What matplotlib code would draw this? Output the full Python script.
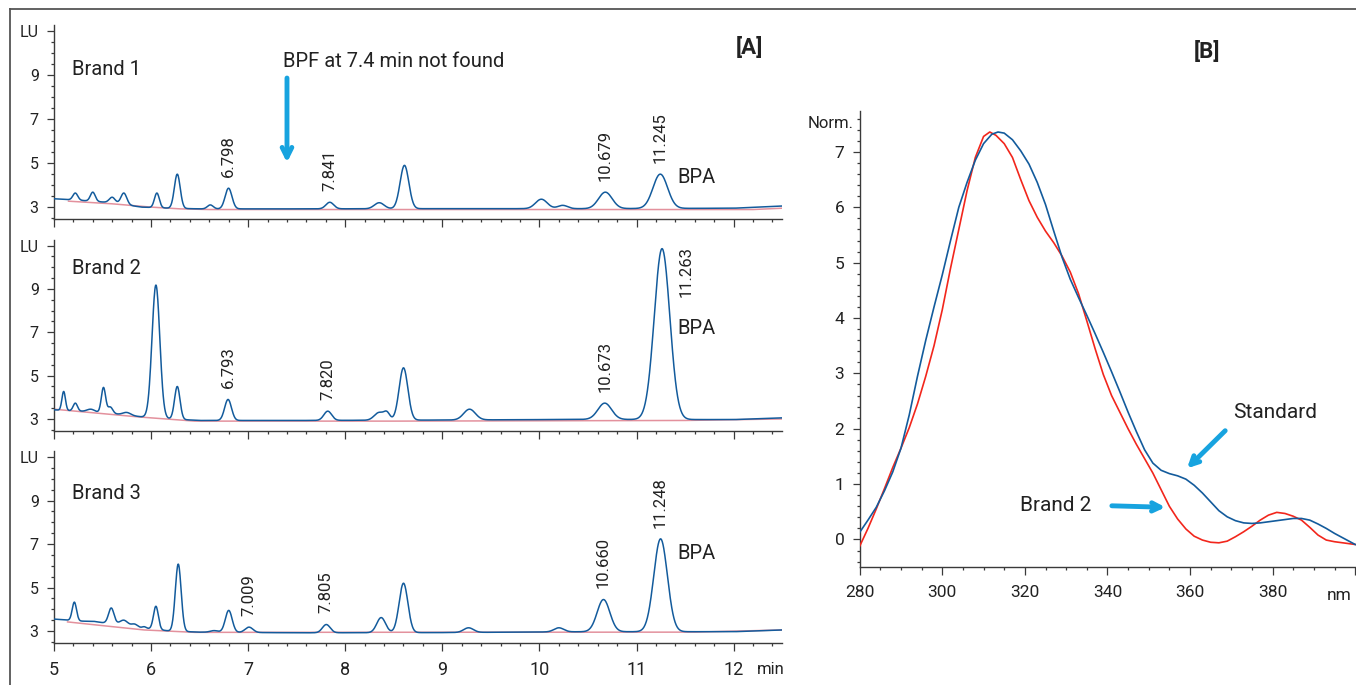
"""Chromatograms of three brands (A) and UV spectra of BPA (B)."""

import numpy as np
import matplotlib

matplotlib.use("Agg")

import matplotlib.pyplot as plt
from matplotlib.lines import Line2D
from matplotlib.ticker import MultipleLocator, FixedLocator

# ---------------- data: panel A (retention time in min, signal in LU) ----------------
brand_names = ["Brand 1", "Brand 2", "Brand 3"]

brand1_peak_t = [5.22, 5.40, 5.60, 5.72, 6.06, 6.27, 6.61, 6.798, 7.841, 8.35, 8.61, 10.02, 10.24, 10.679, 11.245]
brand1_peak_top = [3.64, 3.68, 3.45, 3.64, 3.64, 4.50, 3.10, 3.86, 3.22, 3.20, 4.90, 3.36, 3.08, 3.68, 4.50]
brand1_peak_w = [0.025, 0.025, 0.03, 0.03, 0.025, 0.03, 0.03, 0.035, 0.04, 0.05, 0.045, 0.06, 0.05, 0.07, 0.075]
brand1_base_t = [5.0, 5.3, 5.6, 5.9, 6.2, 6.5, 7.5, 9.0, 10.5, 12.0, 12.5]
brand1_base_v = [3.38, 3.30, 3.20, 3.00, 2.95, 2.92, 2.92, 2.93, 2.93, 2.95, 3.05]
brand1_int_t = [5.15, 5.6, 6.0, 6.3, 6.6, 12.2, 12.5]
brand1_int_v = [3.27, 3.15, 3.00, 2.92, 2.89, 2.89, 2.95]

brand2_peak_t = [5.10, 5.22, 5.38, 5.51, 5.58, 5.75, 6.05, 6.27, 6.793, 7.820, 8.35, 8.43, 8.60, 9.28, 10.673, 11.263]
brand2_peak_top = [4.27, 3.73, 3.45, 4.45, 3.55, 3.30, 9.18, 4.50, 3.90, 3.36, 3.30, 3.25, 5.36, 3.45, 3.73, 10.86]
brand2_peak_w = [0.018, 0.022, 0.04, 0.022, 0.025, 0.04, 0.04, 0.028, 0.035, 0.04, 0.05, 0.03, 0.045, 0.06, 0.07, 0.08]
brand2_base_t = [5.0, 5.3, 5.6, 5.9, 6.2, 6.5, 7.5, 9.0, 10.5, 12.0, 12.5]
brand2_base_v = [3.42, 3.35, 3.25, 3.10, 3.00, 2.93, 2.93, 2.95, 2.98, 2.97, 3.05]
brand2_int_t = [5.0, 5.88, 6.45, 8.5, 11.5, 12.5]
brand2_int_v = [3.45, 3.09, 2.90, 2.90, 2.93, 3.00]

brand3_peak_t = [5.21, 5.40, 5.59, 5.72, 5.83, 5.93, 6.05, 6.28, 6.65, 6.80, 7.009, 7.805, 8.37, 8.60, 9.27, 10.20, 10.660, 11.248]
brand3_peak_top = [4.33, 3.45, 4.06, 3.50, 3.32, 3.20, 4.14, 6.08, 3.02, 3.95, 3.18, 3.30, 3.62, 5.20, 3.15, 3.15, 4.45, 7.24]
brand3_peak_w = [0.022, 0.05, 0.028, 0.04, 0.03, 0.02, 0.025, 0.03, 0.04, 0.035, 0.04, 0.04, 0.045, 0.045, 0.05, 0.05, 0.065, 0.07]
brand3_base_t = [5.0, 5.3, 5.6, 5.9, 6.2, 6.5, 7.5, 9.0, 10.5, 12.0, 12.5]
brand3_base_v = [3.55, 3.45, 3.35, 3.15, 3.00, 2.95, 2.92, 2.93, 2.97, 2.97, 3.05]
brand3_int_t = [5.14, 5.52, 5.93, 6.45, 11.6, 12.5]
brand3_int_v = [3.42, 3.24, 3.05, 2.94, 2.95, 3.05]

# retention times printed above the peaks
brand1_labels = ["6.798", "7.841", "10.679", "11.245"]
brand2_labels = ["6.793", "7.820", "10.673", "11.263"]
brand3_labels = ["7.009", "7.805", "10.660", "11.248"]

# ---------------- data: panel B (wavelength in nm, normalised absorbance) ----------------
std_nm = [280, 282, 284, 286, 288, 290, 292, 294, 296, 298, 300, 302, 304, 306, 308, 310, 312, 313.5,
          315, 317, 319, 321, 323, 325, 327, 329, 331, 333, 335, 337, 339, 341, 343, 345, 347, 349,
          351, 353, 355, 357, 359, 361, 363, 365, 367, 369, 371, 373, 375, 377, 379, 381, 383, 385,
          387, 389, 391, 393, 395, 397, 400]
std_abs = [0.13, 0.35, 0.58, 0.88, 1.22, 1.65, 2.25, 2.95, 3.60, 4.20, 4.78, 5.40, 6.00, 6.45, 6.85, 7.15, 7.32, 7.36,
           7.34, 7.22, 7.02, 6.78, 6.45, 6.05, 5.57, 5.10, 4.70, 4.37, 4.05, 3.72, 3.38, 3.03, 2.67, 2.30, 1.95, 1.62,
           1.38, 1.25, 1.19, 1.15, 1.09, 0.98, 0.84, 0.68, 0.52, 0.41, 0.34, 0.30, 0.29, 0.30, 0.32, 0.34, 0.36, 0.38,
           0.38, 0.35, 0.28, 0.20, 0.11, 0.03, -0.09]

b2_nm = [280, 282, 284, 286, 288, 290, 292, 294, 296, 298, 300, 302, 304, 306, 308, 310, 311.5, 313,
         315, 317, 319, 321, 323, 325, 327, 329, 331, 333, 335, 337, 339, 341, 343, 345, 347, 349,
         351, 353, 355, 357, 359, 361, 363, 365, 367, 369, 371, 373, 375, 377, 379, 381, 383, 385,
         387, 389, 391, 393, 395, 397, 400]
b2_abs = [-0.12, 0.20, 0.55, 0.92, 1.30, 1.65, 2.02, 2.45, 2.95, 3.50, 4.15, 4.90, 5.60, 6.30, 6.90, 7.28, 7.36, 7.30,
          7.15, 6.90, 6.50, 6.12, 5.82, 5.57, 5.36, 5.12, 4.83, 4.44, 3.95, 3.45, 2.98, 2.60, 2.30, 2.00, 1.72, 1.46,
          1.20, 0.90, 0.60, 0.37, 0.19, 0.06, -0.01, -0.05, -0.06, -0.03, 0.05, 0.14, 0.24, 0.35, 0.44, 0.49, 0.47, 0.42,
          0.35, 0.22, 0.08, -0.01, -0.04, -0.06, -0.09]

# ---------------- styles ----------------
FONT = ["Roboto", "DejaVu Sans"]
TRACE = "#135b9c"
PINK = "#e3919d"
RED = "#f2261c"
ARROW = "#17a3df"
AXIS = "#3a3a3a"
TEXT = "#222222"

plt.rcParams["font.family"] = FONT
plt.rcParams["text.color"] = TEXT


def chromatogram(t, peak_t, peak_top, peak_w, base_t, base_v):
    y = np.interp(t, base_t, base_v)
    for pt, top, w in zip(peak_t, peak_top, peak_w):
        h = top - np.interp(pt, base_t, base_v)
        y = y + h * np.exp(-0.5 * ((t - pt) / w) ** 2)
    return y


def style_axis(ax):
    for side in ("top", "right"):
        ax.spines[side].set_visible(False)
    for side in ("left", "bottom"):
        ax.spines[side].set_color(AXIS)
        ax.spines[side].set_linewidth(1.0)
    ax.tick_params(which="both", direction="out", color=AXIS, width=0.9, labelcolor=TEXT)
    ax.tick_params(which="major", length=5)
    ax.tick_params(which="minor", length=2.5)


fig = plt.figure(figsize=(13.56, 6.85), dpi=100)

# frame around the figure (only top and left edges are visible in the crop)
fig.add_artist(Line2D([0.0074, 1.0], [0.987, 0.987], transform=fig.transFigure, color="#555555", lw=1.3))
fig.add_artist(Line2D([0.0074, 0.0074], [0.0, 0.987], transform=fig.transFigure, color="#555555", lw=1.3))

t = np.linspace(5.0, 12.5, 2000)
panels = [
    (brand1_peak_t, brand1_peak_top, brand1_peak_w, brand1_base_t, brand1_base_v, brand1_int_t, brand1_int_v, brand1_labels),
    (brand2_peak_t, brand2_peak_top, brand2_peak_w, brand2_base_t, brand2_base_v, brand2_int_t, brand2_int_v, brand2_labels),
    (brand3_peak_t, brand3_peak_top, brand3_peak_w, brand3_base_t, brand3_base_v, brand3_int_t, brand3_int_v, brand3_labels),
]
boxes = [
    [0.0398, 0.680, 0.537, 0.283],
    [0.0398, 0.371, 0.537, 0.279],
    [0.0398, 0.0613, 0.537, 0.280],
]
name_y = [9.25, 9.95, 9.34]
bpa_y = [4.36, 7.18, 6.55]

axes_a = []
for i, (pk_t, pk_top, pk_w, b_t, b_v, i_t, i_v, labels) in enumerate(panels):
    ax = fig.add_axes(boxes[i])
    axes_a.append(ax)
    y = chromatogram(t, pk_t, pk_top, pk_w, b_t, b_v)
    ax.plot(i_t, i_v, color=PINK, lw=1.1, zorder=2)
    ax.plot(t, y, color=TRACE, lw=1.1, zorder=3)

    ax.set_xlim(5.0, 12.5)
    ax.set_ylim(2.45, 11.27)
    style_axis(ax)
    ax.xaxis.set_major_locator(MultipleLocator(1))
    ax.xaxis.set_minor_locator(MultipleLocator(0.2))
    ax.yaxis.set_major_locator(FixedLocator([3, 5, 7, 9, 11]))
    ax.yaxis.set_minor_locator(MultipleLocator(0.5))
    ax.set_yticklabels(["3", "5", "7", "9", "LU"])
    ax.tick_params(axis="y", labelsize=11.5, pad=6)
    ax.tick_params(axis="x", which="major", length=6)
    if i < 2:
        ax.tick_params(axis="x", labelbottom=False)
    else:
        ax.tick_params(axis="x", labelsize=13, pad=7)
        ax.annotate("min", xy=(12.38, 0), xycoords=("data", "axes fraction"),
                    xytext=(0, -14), textcoords="offset points",
                    ha="center", va="top", fontsize=12)

    ax.text(5.19, name_y[i], brand_names[i], fontsize=14.5, va="center", ha="left")
    ax.text(11.42, bpa_y[i], "BPA", fontsize=14.5, va="center", ha="left")

    for lab in labels:
        rt = float(lab)
        top = float(np.interp(rt, t, y))
        if lab == "11.263":
            # tallest peak: number printed beside the apex
            ax.text(rt + 0.245, 11.0, lab, rotation=90, ha="center", va="top", fontsize=12)
        else:
            ax.annotate(lab, xy=(rt, top), xytext=(0, 8), textcoords="offset points",
                        rotation=90, ha="center", va="bottom", fontsize=12)

ax1 = axes_a[0]
ax1.text(12.16, 10.23, "[A]", fontsize=16, fontweight="bold", ha="center", va="center")
ax1.text(7.36, 9.64, "BPF at 7.4 min not found", fontsize=14.5, ha="left", va="center")
ax1.annotate("", xy=(7.4, 4.9), xytext=(7.4, 9.0),
             arrowprops=dict(arrowstyle="->,head_length=0.7,head_width=0.35", color=ARROW, lw=3.5))

# ---------------- panel B ----------------
axb = fig.add_axes([0.634, 0.172, 0.366, 0.666])
axb.plot(b2_nm, b2_abs, color=RED, lw=1.2, zorder=3)
axb.plot(std_nm, std_abs, color=TRACE, lw=1.2, zorder=4)
axb.set_xlim(280, 400.2)
axb.set_ylim(-0.5, 7.74)
style_axis(axb)
axb.xaxis.set_minor_locator(MultipleLocator(5))
axb.yaxis.set_major_locator(FixedLocator([0, 1, 2, 3, 4, 5, 6, 7]))
axb.yaxis.set_minor_locator(MultipleLocator(0.2))
axb.set_xticks([280, 300, 320, 340, 360, 380, 400])
axb.set_xticklabels(["280", "300", "320", "340", "360", "380", ""])
axb.tick_params(axis="x", labelsize=12.5, pad=7, which="major", length=6)
axb.tick_params(axis="y", labelsize=12.5, pad=6)
axb.text(-0.012, 7.52, "Norm.", transform=axb.get_yaxis_transform(), ha="right", va="center", fontsize=12)
axb.annotate("nm", xy=(396, 0), xycoords=("data", "axes fraction"), xytext=(0, -15),
             textcoords="offset points", ha="center", va="top", fontsize=12.5)

axb.text(364.1, 8.8, "[B]", fontsize=16, fontweight="bold", ha="center", va="center", clip_on=False)
axb.text(370.4, 2.29, "Standard", fontsize=15, ha="left", va="center")
axb.text(336.2, 0.61, "Brand 2", fontsize=15, ha="right", va="center")
arrow_style = dict(arrowstyle="->,head_length=0.6,head_width=0.3", color=ARROW, lw=3.5)
axb.annotate("", xy=(358.8, 1.25), xytext=(369.0, 2.0), arrowprops=arrow_style)
axb.annotate("", xy=(354.7, 0.58), xytext=(340.4, 0.61), arrowprops=arrow_style)

fig.savefig("out.png", dpi=100)
plt.close(fig)
